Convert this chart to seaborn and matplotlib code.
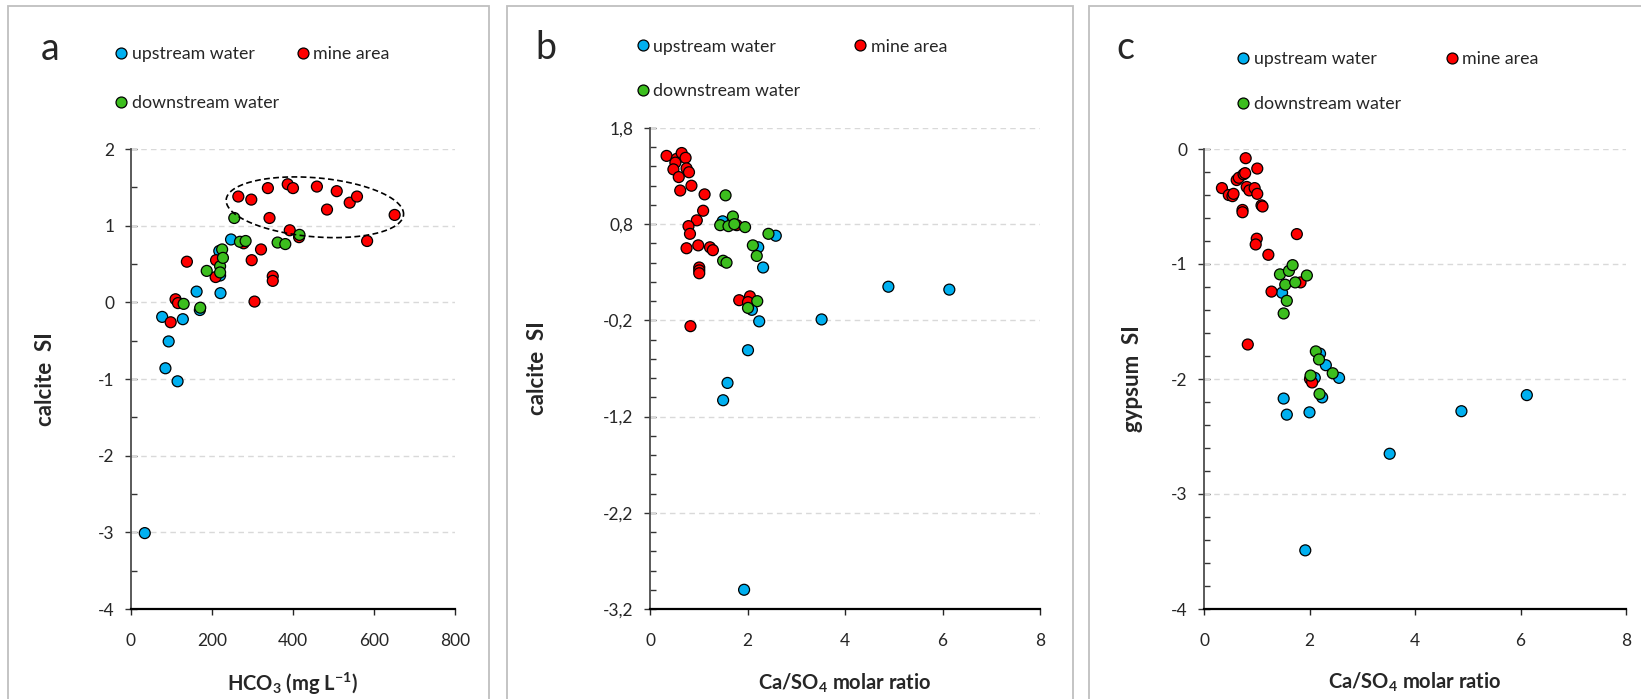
import numpy as np
import pandas as pd
import matplotlib
matplotlib.use("Agg")
import matplotlib.pyplot as plt
import seaborn as sns
from matplotlib.patches import Rectangle
from matplotlib.ticker import FixedLocator, MultipleLocator, FuncFormatter

# ---------------- data ----------------
groups = ["upstream water", "mine area", "downstream water"]
colors = {"upstream water": "#00B0F0", "mine area": "#FF0000", "downstream water": "#3CBE1E"}

# panel a : HCO3 vs calcite SI
a_up_x = [34, 77, 85, 93, 115, 128, 162, 170, 218, 220, 221, 247]
a_up_y = [-3.01, -0.19, -0.86, -0.51, -1.03, -0.22, 0.14, -0.10, 0.67, 0.35, 0.12, 0.82]
a_mine_x = [98, 110, 116, 138, 209, 210, 265, 278, 297, 298, 305, 321, 338, 342, 350, 350,
            387, 392, 400, 415, 459, 484, 508, 540, 558, 583, 651]
a_mine_y = [-0.26, 0.04, -0.01, 0.53, 0.33, 0.55, 1.38, 0.77, 1.34, 0.55, 0.01, 0.69, 1.49, 1.10,
            0.34, 0.28, 1.54, 0.94, 1.49, 0.85, 1.51, 1.21, 1.45, 1.30, 1.38, 0.80, 1.14]
a_down_x = [130, 171, 187, 220, 220, 225, 227, 255, 269, 283, 362, 381, 416]
a_down_y = [-0.02, -0.07, 0.41, 0.47, 0.39, 0.69, 0.58, 1.10, 0.79, 0.80, 0.78, 0.76, 0.88]

# panel b : Ca/SO4 vs calcite SI
b_up_x = [1.49, 1.50, 1.59, 1.93, 2.01, 2.09, 2.22, 2.24, 2.32, 2.58, 3.52, 4.89, 6.14]
b_up_y = [0.83, -1.03, -0.85, -3.00, -0.51, -0.09, 0.56, -0.21, 0.35, 0.68, -0.19, 0.15, 0.12]
b_mine_x = [0.34, 0.55, 0.65, 0.73, 0.52, 0.48, 0.75, 0.80, 0.59, 0.62, 0.85, 1.12, 1.09, 0.96,
            0.79, 0.82, 0.75, 0.99, 1.23, 1.29, 1.01, 1.01, 1.01, 0.83, 1.78, 1.83, 2.05, 2.01]
b_mine_y = [1.51, 1.48, 1.54, 1.49, 1.44, 1.37, 1.38, 1.34, 1.29, 1.15, 1.20, 1.11, 0.94, 0.84,
            0.78, 0.70, 0.55, 0.58, 0.56, 0.53, 0.35, 0.32, 0.29, -0.26, 0.79, 0.01, 0.05, -0.01]
b_down_x = [1.55, 1.70, 1.44, 1.61, 1.73, 1.95, 2.43, 2.11, 2.19, 1.50, 1.57, 2.20, 2.01]
b_down_y = [1.10, 0.88, 0.79, 0.78, 0.80, 0.77, 0.70, 0.58, 0.47, 0.42, 0.40, 0.00, -0.07]

# panel c : Ca/SO4 vs gypsum SI
c_up_x = [1.48, 1.51, 1.57, 1.92, 2.00, 2.10, 2.20, 2.24, 2.31, 2.56, 3.52, 4.88, 6.12]
c_up_y = [-1.25, -2.17, -2.31, -3.49, -2.29, -1.99, -1.78, -2.16, -1.88, -1.99, -2.65, -2.28, -2.14]
c_mine_x = [0.79, 1.01, 0.34, 0.47, 0.54, 0.56, 0.62, 0.66, 0.75, 0.78, 0.81, 0.86, 0.96, 1.01,
            1.09, 1.11, 0.73, 0.73, 1.00, 0.98, 1.22, 1.76, 1.28, 1.83, 0.83, 2.01, 2.05]
c_mine_y = [-0.08, -0.17, -0.34, -0.40, -0.41, -0.39, -0.27, -0.25, -0.22, -0.21, -0.33, -0.36,
            -0.34, -0.39, -0.49, -0.50, -0.53, -0.55, -0.78, -0.83, -0.92, -0.74, -1.24, -1.16,
            -1.70, -2.00, -2.03]
c_down_x = [1.44, 1.61, 1.68, 1.95, 1.54, 1.73, 1.57, 1.51, 2.12, 2.18, 2.44, 2.02, 2.19]
c_down_y = [-1.09, -1.06, -1.01, -1.10, -1.18, -1.16, -1.32, -1.43, -1.76, -1.83, -1.95, -1.97, -2.13]

a_yticks = [-4, -3, -2, -1, 0, 1, 2]
b_yticks = [-3.2, -2.2, -1.2, -0.2, 0.8, 1.8]
c_yticks = [-4, -3, -2, -1, 0]
a_xticks = [0, 200, 400, 600, 800]
bc_xticks = [0, 2, 4, 6, 8]

panel_letters = ["a", "b", "c"]
ylabels = ["calcite  SI", "calcite  SI", "gypsum  SI"]
xlabels = ["HCO$_3$ (mg L$^{-1}$)", "Ca/SO$_4$ molar ratio", "Ca/SO$_4$ molar ratio"]


def frame(ux, uy, mx, my, dx, dy):
    return pd.DataFrame({
        "x": list(ux) + list(mx) + list(dx),
        "y": list(uy) + list(my) + list(dy),
        "group": [groups[0]] * len(ux) + [groups[1]] * len(mx) + [groups[2]] * len(dx),
    })


dfa = frame(a_up_x, a_up_y, a_mine_x, a_mine_y, a_down_x, a_down_y)
dfb = frame(b_up_x, b_up_y, b_mine_x, b_mine_y, b_down_x, b_down_y)
dfc = frame(c_up_x, c_up_y, c_mine_x, c_mine_y, c_down_x, c_down_y)

# ---------------- style ----------------
sns.set_style("white")
plt.rcParams["font.family"] = ["Lato", "DejaVu Sans"]
plt.rcParams["axes.unicode_minus"] = False
plt.rcParams["mathtext.fontset"] = "custom"
plt.rcParams["mathtext.rm"] = "Lato:bold"
plt.rcParams["mathtext.it"] = "Lato:bold"
plt.rcParams["mathtext.bf"] = "Lato:bold"

W, H = 1641, 699
fig = plt.figure(figsize=(W / 100, H / 100), dpi=100)
renderer = fig.canvas.get_renderer()


def text_width(s, size):
    t = fig.text(0, 0, s, fontsize=size)
    w = t.get_window_extent(renderer).width
    t.remove()
    return w


# legend font size chosen so that "upstream water" is ~122 px wide
LEG_FS = 11 * 122.0 / text_width("upstream water", 11)
FS_PX = LEG_FS * 100 / 72.0
W_DOWN = text_width("downstream water", LEG_FS)
HL = 0.7
HTP = (10.5 - HL * FS_PX / 2) / FS_PX

# axes boxes in pixels: left, right, top, bottom
boxes = [(131, 455, 149, 609), (650, 1040, 128, 609), (1204, 1626, 149, 609)]
axes = []
for (l, r, t, b) in boxes:
    axes.append(fig.add_axes([l / W, 1 - b / H, (r - l) / W, (b - t) / H]))

# panel borders
for (l, r) in [(8, 489), (507, 1073), (1089, 1660)]:
    fig.add_artist(Rectangle((l / W, -0.05), (r - l) / W, (H - 6) / H + 0.05,
                             transform=fig.transFigure, fill=False, ec="#bfbfbf", lw=1.3))

dfs = [dfa, dfb, dfc]
xlims = [(0, 800), (0, 8), (0, 8)]
ylims = [(-4, 2), (-3.2, 1.8), (-4, 0)]
ytick_sets = [a_yticks, b_yticks, c_yticks]
xtick_sets = [a_xticks, bc_xticks, bc_xticks]
minor_steps = [0.5, 0.2, 0.2]
fmts = [lambda v, p: f"{v:.0f}", lambda v, p: f"{v:.1f}".replace(".", ","), lambda v, p: f"{v:.0f}"]
ylabel_x = [-0.231, -0.2615, -0.1445]
xlabel_y = [-0.135, -0.130, -0.135]

# legend targets in px: upstream marker x, mine-area marker x, row-1 centre y, row distance
leg_target = [(121.0, 302.5, 54.5, 49.5), (642.6, 860.3, 47.0, 45.5), (1243.3, 1451.6, 59.5, 45.5)]
letter_pos = [(50, 49), (546, 48), (1125, 48)]
TXT_H = 14.4 * LEG_FS / 11.0

for i, ax in enumerate(axes):
    sns.scatterplot(data=dfs[i], x="x", y="y", hue="group", hue_order=groups, palette=colors,
                    s=62, edgecolor="black", linewidth=0.9, ax=ax, zorder=3, legend=True)
    handles, labels = ax.get_legend_handles_labels()
    hmap = dict(zip(labels, handles))
    ax.get_legend().remove()

    ax.set_xlim(*xlims[i])
    ax.set_ylim(*ylims[i])
    ax.yaxis.set_major_locator(FixedLocator(ytick_sets[i]))
    ax.yaxis.set_major_formatter(FuncFormatter(fmts[i]))
    ax.yaxis.set_minor_locator(MultipleLocator(minor_steps[i]))
    ax.xaxis.set_major_locator(FixedLocator(xtick_sets[i]))
    for sp in ["top", "right"]:
        ax.spines[sp].set_visible(False)
    ax.spines["left"].set_color("#4d4d4d")
    ax.spines["left"].set_linewidth(1.3)
    ax.spines["bottom"].set_color("black")
    ax.spines["bottom"].set_linewidth(1.6)
    ax.tick_params(axis="y", which="major", direction="inout", length=8, width=1, pad=8,
                   labelsize=12.5, color="#333333", left=True)
    ax.tick_params(axis="y", which="minor", direction="in", length=4, width=1, color="#333333", left=True)
    ax.tick_params(axis="x", which="major", direction="out", length=4, width=1, pad=13,
                   labelsize=12.5, bottom=True)
    ax.grid(False)
    for yt in ytick_sets[i]:
        if yt != ylims[i][0]:
            ax.axhline(yt, color="#d9d9d9", lw=1, ls=(0, (4, 3)), zorder=1)
    ax.set_xlabel(xlabels[i], fontsize=14.5, fontweight="bold")
    ax.set_ylabel(ylabels[i], fontsize=16, fontweight="bold")
    ax.yaxis.set_label_coords(ylabel_x[i], 0.5)
    ax.xaxis.set_label_coords(0.5, xlabel_y[i])

    up_x, mine_x, row_y, row_d = leg_target[i]
    lx = up_x - HL * FS_PX / 2
    cs = (mine_x - up_x - (HL + HTP) * FS_PX - W_DOWN) / FS_PX
    ls = (row_d - TXT_H) / FS_PX
    ly = row_y - TXT_H / 2
    order = [groups[0], groups[2], groups[1]]
    ax.legend([hmap[g] for g in order], order, ncol=2, loc="upper left",
              bbox_to_anchor=(lx / W, 1 - ly / H), bbox_transform=fig.transFigure,
              frameon=False, fontsize=LEG_FS, handlelength=HL, handletextpad=HTP,
              columnspacing=cs, labelspacing=ls, borderpad=0, borderaxespad=0)
    fig.text(letter_pos[i][0] / W, 1 - letter_pos[i][1] / H, panel_letters[i], fontsize=27,
             ha="center", va="center")

# dashed ellipse around the high calcite SI mine-area points (panel a)
ax = axes[0]
t = np.linspace(0, 2 * np.pi, 300)
cx, cy = 454, 1.24
sx = (455 - 131) / 800.0
sy = (609 - 149) / 6.0
A, B, th = 89.0, 29.5, np.deg2rad(-4.9)
ex = cx + (A * np.cos(t) * np.cos(th) - B * np.sin(t) * np.sin(th)) / sx
ey = cy + (A * np.cos(t) * np.sin(th) + B * np.sin(t) * np.cos(th)) / sy
ax.plot(ex, ey, color="black", lw=1.2, ls=(0, (3.5, 2)), zorder=4)

fig.savefig("out.png", dpi=100)
